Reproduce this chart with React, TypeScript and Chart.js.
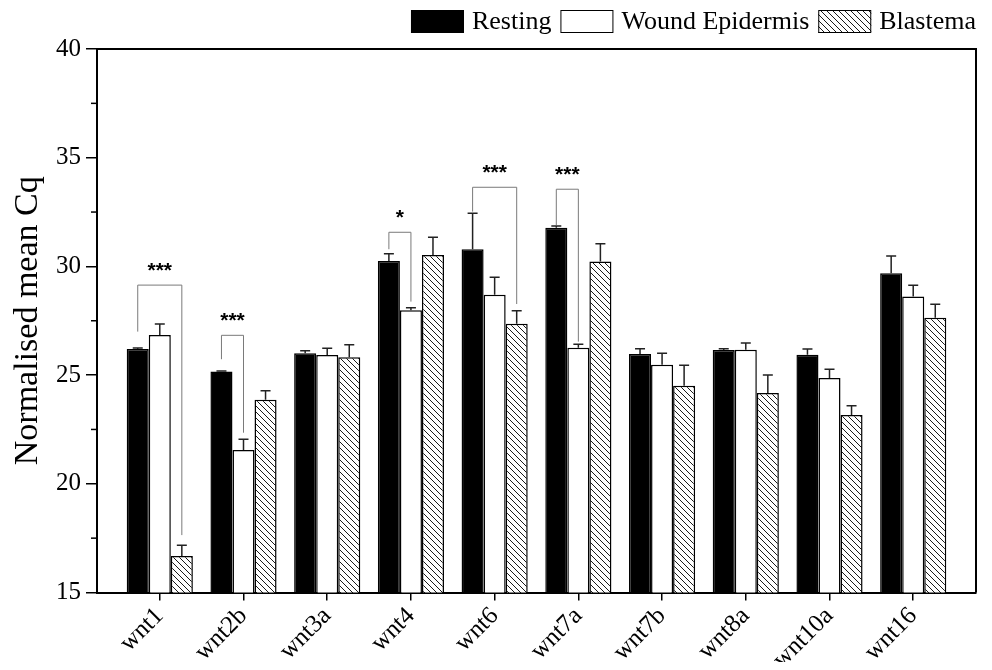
import React, { useEffect, useRef } from "react";
import { Chart, registerables } from "chart.js";

Chart.register(...registerables);

const categories = ["wnt1", "wnt2b", "wnt3a", "wnt4", "wnt6", "wnt7a", "wnt7b", "wnt8a", "wnt10a", "wnt16"];
const seriesNames = ["Resting", "Wound Epidermis", "Blastema"];
const resting = [26.2, 25.17, 26.0, 30.25, 30.79, 31.78, 25.97, 26.15, 25.94, 29.68];
const restingErr = [0.05, 0.02, 0.12, 0.33, 1.65, 0.08, 0.24, 0.06, 0.26, 0.8];
const wound = [26.84, 21.55, 25.92, 27.98, 28.7, 26.26, 25.48, 26.17, 24.87, 28.62];
const woundErr = [0.51, 0.5, 0.31, 0.12, 0.8, 0.16, 0.52, 0.31, 0.4, 0.51];
const blastema = [16.68, 23.87, 25.82, 30.52, 27.36, 30.23, 24.51, 24.18, 23.16, 27.64];
const blastemaErr = [0.49, 0.41, 0.58, 0.82, 0.6, 0.81, 0.94, 0.83, 0.43, 0.62];

const yTicks = [15, 20, 25, 30, 35, 40];
const yMinorTicks = [17.5, 22.5, 27.5, 32.5, 37.5];

const sigCategory = [0, 1, 3, 4, 5];
const sigFrom = [0, 0, 0, 0, 0];
const sigTo = [2, 1, 1, 2, 1];
const sigTop = [29.14, 26.83, 31.57, 33.64, 33.55];
const sigLeftEnd = [27.0, 25.73, 30.79, 32.52, 31.9];
const sigRightEnd = [17.64, 22.35, 28.38, 28.27, 26.54];
const sigLabel = ["***", "***", "*", "***", "***"];

const SERIF = "'Liberation Serif', 'Times New Roman', serif";

function makeHatch(): CanvasPattern | string {
  const c = document.createElement("canvas");
  c.width = 6;
  c.height = 6;
  const g = c.getContext("2d");
  if (!g) return "#fff";
  g.fillStyle = "#fff";
  g.fillRect(0, 0, 6, 6);
  g.strokeStyle = "#000";
  g.lineWidth = 0.9;
  g.beginPath();
  g.moveTo(-1, -1);
  g.lineTo(7, 7);
  g.moveTo(-4, 2);
  g.lineTo(4, 10);
  g.moveTo(2, -4);
  g.lineTo(10, 4);
  g.stroke();
  return g.createPattern(c, "repeat") || "#fff";
}

export default function App() {
  const ref = useRef<HTMLCanvasElement | null>(null);

  useEffect(() => {
    if (!ref.current) return;
    const hatch = makeHatch();
    const values = [resting, wound, blastema];
    const errs = [restingErr, woundErr, blastemaErr];
    const fills: any[] = ["#000", "#fff", hatch];

    const extras = {
      id: "extras",
      afterDatasetsDraw(chart: any) {
        const ctx = chart.ctx;
        const ys = chart.scales.y;
        const a = chart.chartArea;
        ctx.save();
        // error bars
        ctx.strokeStyle = "#222";
        ctx.lineWidth = 1.5;
        for (let d = 0; d < 3; d++) {
          const meta = chart.getDatasetMeta(d);
          meta.data.forEach((bar: any, j: number) => {
            const top = ys.getPixelForValue(values[d][j]);
            const cap = ys.getPixelForValue(values[d][j] + errs[d][j]);
            ctx.beginPath();
            ctx.moveTo(bar.x, top);
            ctx.lineTo(bar.x, cap);
            ctx.moveTo(bar.x - 5, cap);
            ctx.lineTo(bar.x + 5, cap);
            ctx.stroke();
          });
        }
        // brackets
        for (let k = 0; k < sigCategory.length; k++) {
          const c = sigCategory[k];
          const x1 = chart.getDatasetMeta(sigFrom[k]).data[c].x;
          const x2 = chart.getDatasetMeta(sigTo[k]).data[c].x;
          const yt = ys.getPixelForValue(sigTop[k]);
          const yl = ys.getPixelForValue(sigLeftEnd[k]);
          const yr = ys.getPixelForValue(sigRightEnd[k]);
          ctx.strokeStyle = "#7a7a7a";
          ctx.lineWidth = 1;
          ctx.beginPath();
          ctx.moveTo(x1, yl);
          ctx.lineTo(x1, yt);
          ctx.lineTo(x2, yt);
          ctx.lineTo(x2, yr);
          ctx.stroke();
          ctx.fillStyle = "#000";
          ctx.font = "bold 21px 'Liberation Sans', Arial, sans-serif";
          ctx.textAlign = "center";
          ctx.textBaseline = "middle";
          ctx.fillText(sigLabel[k], (x1 + x2) / 2, yt - 14);
        }
        // frame top & right
        ctx.strokeStyle = "#000";
        ctx.lineWidth = 2;
        ctx.beginPath();
        ctx.moveTo(a.left, a.top);
        ctx.lineTo(a.right, a.top);
        ctx.lineTo(a.right, a.bottom);
        ctx.stroke();
        // minor ticks
        ctx.lineWidth = 1.5;
        yMinorTicks.forEach((v) => {
          const y = ys.getPixelForValue(v);
          ctx.beginPath();
          ctx.moveTo(a.left - 6, y);
          ctx.lineTo(a.left, y);
          ctx.stroke();
        });
        // legend
        ctx.font = `26px ${SERIF}`;
        ctx.textBaseline = "middle";
        ctx.textAlign = "left";
        const sw = 53;
        const sh = 23;
        const gapText = 8;
        const gapItem = 9;
        let total = 0;
        seriesNames.forEach((n, i) => {
          total += sw + gapText + ctx.measureText(n).width + (i < 2 ? gapItem : 0);
        });
        let x = a.right - total;
        const y0 = 2;
        seriesNames.forEach((n, i) => {
          ctx.fillStyle = fills[i];
          ctx.fillRect(x, y0, sw, sh);
          ctx.strokeStyle = "#000";
          ctx.lineWidth = 1;
          ctx.strokeRect(x + 0.5, y0 + 0.5, sw - 1, sh - 1);
          x += sw + gapText;
          ctx.fillStyle = "#000";
          ctx.fillText(n, x, y0 + sh / 2 + 1);
          x += ctx.measureText(n).width + gapItem;
        });
        ctx.restore();
      },
    };

    const chart = new Chart(ref.current, {
      type: "bar",
      data: {
        datasets: values.map((vals, d) => ({
          label: seriesNames[d],
          data: vals.map((v, i) => ({ x: i, y: v })),
          backgroundColor: fills[d],
          borderColor: "#000",
          borderWidth: 1.5,
          barPercentage: 1,
          categoryPercentage: 0.79,
        })),
      },
      options: {
        animation: false,
        responsive: true,
        maintainAspectRatio: false,
        layout: { padding: { top: 41, right: 8, left: 0, bottom: 0 } },
        plugins: { legend: { display: false }, tooltip: { enabled: false } },
        scales: {
          x: {
            type: "linear",
            min: -0.75,
            max: 9.75,
            offset: false,
            afterBuildTicks: (axis: any) => {
              axis.ticks = categories.map((_, i) => ({ value: i }));
            },
            afterFit: (s: any) => {
              s.height = 69.5;
            },
            ticks: {
              autoSkip: false,
              minRotation: 45,
              maxRotation: 45,
              padding: 1,
              color: "#000",
              font: { family: SERIF, size: 25 },
              callback: (v: any) => categories[v] ?? "",
            },
            grid: { offset: false, drawOnChartArea: false, drawTicks: true, tickLength: 8, color: "#000", lineWidth: 1.5 },
            border: { display: true, color: "#000", width: 2 },
          },
          y: {
            min: 15,
            max: 40,
            afterBuildTicks: (axis: any) => {
              axis.ticks = yTicks.map((v) => ({ value: v }));
            },
            afterFit: (s: any) => {
              s.width = 89;
            },
            ticks: {
              padding: 5,
              color: "#000",
              font: { family: SERIF, size: 25 },
            },
            grid: { drawOnChartArea: false, drawTicks: true, tickLength: 11, color: "#000", lineWidth: 1.5 },
            border: { display: true, color: "#000", width: 2 },
            title: {
              display: true,
              text: "Normalised mean Cq",
              color: "#000",
              font: { family: SERIF, size: 34 },
              padding: { top: 0, bottom: 2 },
            },
          },
        },
      },
      plugins: [extras],
    });
    return () => chart.destroy();
  }, []);

  return (
    <div style={{ width: 976, height: 654, position: "relative" }}>
      <canvas ref={ref} />
    </div>
  );
}
